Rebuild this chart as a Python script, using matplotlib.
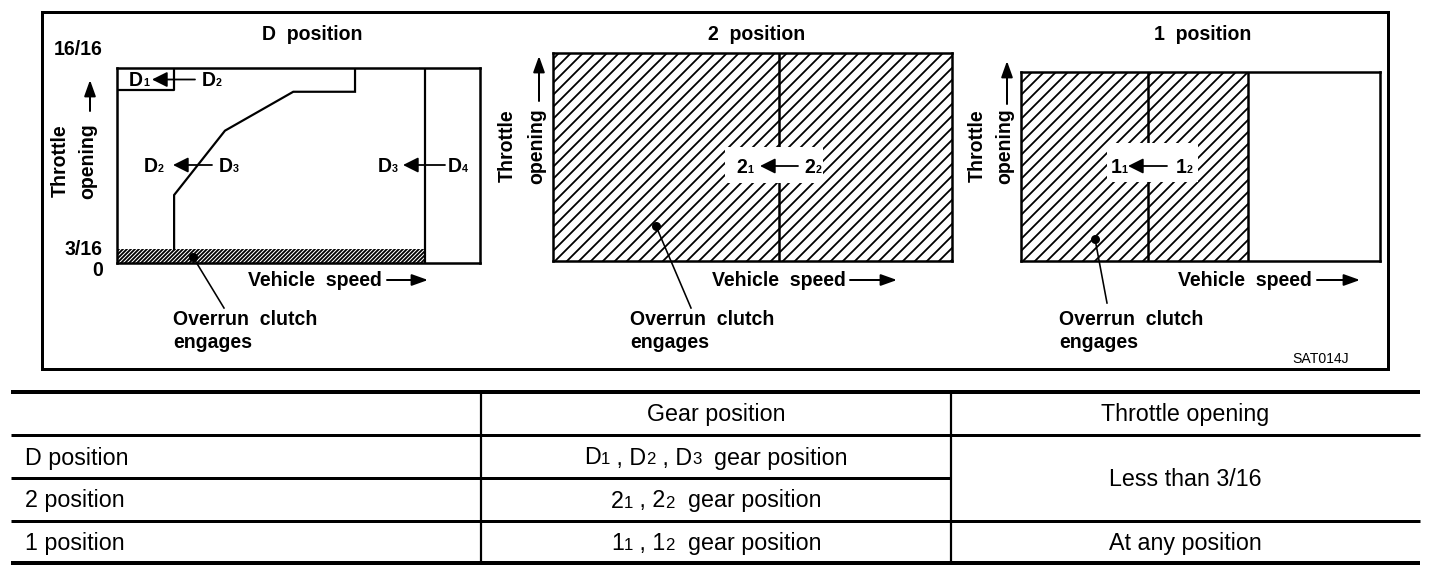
import matplotlib
matplotlib.use("Agg")
import matplotlib.pyplot as plt
from matplotlib.patches import Rectangle

plt.rcParams['font.family'] = ['Liberation Sans', 'DejaVu Sans']
plt.rcParams['hatch.linewidth'] = 0.9

# ---------------- data (schematic %, speed on x, throttle on y) ----------------
panel_titles = ["D  position", "2  position", "1  position"]
throttle_ticks = ["16/16", "3/16", "0"]

# D position
d23_speed = [15.8, 15.8, 29.8, 48.6, 65.6, 65.6]
d23_throttle = [7.2, 34.9, 67.8, 87.7, 87.7, 100.0]
d12_speed = [0.0, 15.8, 15.8]
d12_throttle = [88.6, 88.6, 100.0]
d34_speed = 84.9
d_overrun_throttle = 7.2          # 3/16 throttle line
d_overrun_speed = d34_speed       # overrun band ends at D3<-D4 line

# 2 position
p2_shift_speed = 56.7
p2_overrun_speed = 100.0

# 1 position
p1_shift_speed = 35.5
p1_overrun_speed = 63.1

# shift labels: (gear, subscript) pairs, lower gear <- higher gear
shift_labels = [(("D", "1"), ("D", "2")),
                (("D", "2"), ("D", "3")),
                (("D", "3"), ("D", "4")),
                (("2", "1"), ("2", "2")),
                (("1", "1"), ("1", "2"))]

# table
table_header = ["", "Gear position", "Throttle opening"]
row_labels = ["D position", "2 position", "1 position"]
gear_sets = [[("D", "1"), ("D", "2"), ("D", "3")],
             [("2", "1"), ("2", "2")],
             [("1", "1"), ("1", "2")]]
gear_suffix = "  gear position"
throttle_conditions = ["Less than 3/16", "At any position"]

# ---------------- figure ----------------
DPI = 144
W, H = 1456, 580
fig = plt.figure(figsize=(W / DPI, H / DPI), dpi=DPI, facecolor='white')
renderer = fig.canvas.get_renderer()

BFS = 9.75   # bold diagram text (pt)
TFS = 11.6   # table text (pt)


def panel_ax(x0, y0, x1, y1):
    ax = fig.add_axes([x0 / W, 1 - y1 / H, (x1 - x0) / W, (y1 - y0) / H])
    ax.set_xlim(0, 100)
    ax.set_ylim(0, 100)
    ax.set_xticks([])
    ax.set_yticks([])
    for s in ax.spines.values():
        s.set_linewidth(1.25)
        s.set_zorder(5)
    return ax


# D panel
axD = panel_ax(116.7, 67.7, 480, 263.3)
axD.add_patch(Rectangle((0, 0), d_overrun_speed, d_overrun_throttle, facecolor='white',
                        edgecolor='black', lw=0, hatch='////////////'))
axD.plot(d23_speed, d23_throttle, color='black', lw=1.1, solid_joinstyle='miter')
axD.plot(d12_speed, d12_throttle, color='black', lw=1.1)
axD.plot([d34_speed, d34_speed], [0, 100], color='black', lw=1.1)

# 2 panel
ax2 = panel_ax(553.3, 52.7, 951.7, 260.7)
ax2.add_patch(Rectangle((0, 0), p2_overrun_speed, 100, facecolor='white',
                        edgecolor='black', lw=0, hatch='////'))
ax2.plot([p2_shift_speed, p2_shift_speed], [0, 100], color='black', lw=1.25)
ax2.add_patch(Rectangle((43.1, 37.4), 24.6, 17.3, facecolor='white', edgecolor='none', zorder=3))

# 1 panel
ax1 = panel_ax(1021, 72.3, 1380, 260.7)
ax1.add_patch(Rectangle((0, 0), p1_overrun_speed, 100, facecolor='white',
                        edgecolor='black', lw=0, hatch='////'))
ax1.plot([p1_shift_speed, p1_shift_speed], [0, 100], color='black', lw=1.25)
ax1.plot([p1_overrun_speed, p1_overrun_speed], [0, 100], color='black', lw=1.25)
ax1.add_patch(Rectangle((24.0, 41.8), 25.3, 20.7, facecolor='white', edgecolor='none', zorder=3))

# overlay in pixel coordinates (drawn last)
ov = fig.add_axes([0, 0, 1, 1])
ov.set_xlim(0, W)
ov.set_ylim(H, 0)
ov.axis('off')
ov.patch.set_alpha(0)


def rich(x, y, parts, ha='center'):
    """parts: list of (text, fontsize, weight) laid out on a common baseline."""
    objs, widths = [], []
    for s, fs, fw in parts:
        t = ov.text(0, y, s, fontsize=fs, fontweight=fw, va='baseline', ha='left', color='black')
        widths.append(t.get_window_extent(renderer).width)
        objs.append(t)
    total = sum(widths)
    cur = x - total / 2 if ha == 'center' else x
    for t, w in zip(objs, widths):
        t.set_x(cur)
        cur += w


# outer frame
ov.add_patch(Rectangle((41.5, 11.5), 1388 - 41.5, 368.5 - 11.5, fill=False, lw=1.5, edgecolor='black'))

bold = dict(fontsize=BFS, fontweight='bold', color='black')

# titles
for cx, t in zip([312, 757, 1203], panel_titles):
    ov.text(cx, 39.5, t, ha='center', va='baseline', **bold)

# D throttle ticks
for y, t in zip([55, 255, 276.5], throttle_ticks):
    ov.text(103, y, t, ha='right', va='baseline', **bold)

arrow_ax = dict(arrowstyle='-|>,head_length=0.42,head_width=0.15', mutation_scale=16,
                lw=1.0, color='black', shrinkA=0, shrinkB=0)
arrow_sh = dict(arrowstyle='-|>,head_length=0.4,head_width=0.2', mutation_scale=16,
                lw=0.9, color='black', shrinkA=0, shrinkB=0)

# Throttle opening labels (rotated) with up arrows
for xt, xo, yc, ya0, ya1 in [(60, 88, 161, 111, 80), (507, 537, 146, 101, 56), (977, 1005, 146, 104, 61)]:
    ov.text(xt, yc, 'Throttle', rotation=90, ha='center', va='center', **bold)
    ov.text(xo, yc, 'opening', rotation=90, ha='center', va='center', **bold)
    ov.annotate('', xy=(xo + 2, ya1), xytext=(xo + 2, ya0), arrowprops=arrow_ax)

# Vehicle speed labels with right arrows
for xl, xa0, xa1 in [(248, 387, 428), (712, 850, 897), (1178, 1317, 1360)]:
    ov.text(xl, 286.5, 'Vehicle  speed', ha='left', va='baseline', **bold)
    ov.annotate('', xy=(xa1, 280), xytext=(xa0, 280), arrowprops=arrow_ax)

# Overrun clutch engages + leaders
for xl, (dx, dy), (ex, ey) in [(173, (193, 257), (224, 308)),
                               (630, (656, 226), (691, 308)),
                               (1059, (1095, 239), (1107, 303))]:
    ov.text(xl, 325, 'Overrun  clutch', ha='left', va='baseline', **bold)
    ov.text(xl, 348, 'engages', ha='left', va='baseline', **bold)
    ov.plot([dx, ex], [dy, ey], color='black', lw=0.8)
    ov.plot([dx], [dy], 'o', color='black', ms=3.5)

# shift labels: (left label cx, arrow tip, arrow tail, right label cx, y center)
shift_pos = [(139, 152, 195, 212, 79.5),
             (154, 173, 212, 229, 165),
             (388, 403, 445, 458, 165),
             (745, 760, 798, 813, 166),
             (1119, 1128, 1167, 1184, 166)]
SUB = BFS * 0.55
for ((lg, ls), (rg, rs)), (lx, tip, tail, rx, y) in zip(shift_labels, shift_pos):
    rich(lx, y + 7, [(lg, BFS, 'bold'), (ls, SUB, 'bold')])
    rich(rx, y + 7, [(rg, BFS, 'bold'), (rs, SUB, 'bold')])
    ov.annotate('', xy=(tip, y), xytext=(tail, y), arrowprops=arrow_sh)

ov.text(1321, 363, 'SAT014J', ha='center', va='baseline', fontsize=7, color='black')

# ---------------- table ----------------
tx0, tx1 = 11, 1420
col_x = [481, 951]
row_y = [392, 435, 478, 521, 563]
ov.plot([tx0, tx1], [row_y[0]] * 2, color='black', lw=2.0, solid_capstyle='butt')
ov.plot([tx0, tx1], [row_y[1]] * 2, color='black', lw=1.5, solid_capstyle='butt')
ov.plot([tx0, col_x[1]], [row_y[2]] * 2, color='black', lw=1.5, solid_capstyle='butt')
ov.plot([tx0, tx1], [row_y[3]] * 2, color='black', lw=1.5, solid_capstyle='butt')
ov.plot([tx0, tx1], [row_y[4]] * 2, color='black', lw=2.0, solid_capstyle='butt')
for cx in col_x:
    ov.plot([cx, cx], [row_y[0], row_y[4]], color='black', lw=1.1)

col_centers = [(tx0 + col_x[0]) / 2, (col_x[0] + col_x[1]) / 2, (col_x[1] + tx1) / 2]
rc = [(row_y[i] + row_y[i + 1]) / 2 for i in range(4)]
off = 8.0
TSUB = TFS * 0.72
for cx, t in zip(col_centers, table_header):
    if t:
        ov.text(cx, rc[0] + off, t, ha='center', va='baseline', fontsize=TFS)
for i, (lab, gs) in enumerate(zip(row_labels, gear_sets)):
    ov.text(25, rc[i + 1] + off, lab, ha='left', va='baseline', fontsize=TFS)
    parts = []
    for k, (g, s) in enumerate(gs):
        parts.append(((' , ' if k else '') + g, TFS, 'normal'))
        parts.append((s, TSUB, 'normal'))
    parts.append((gear_suffix, TFS, 'normal'))
    rich(col_centers[1], rc[i + 1] + off, parts)
ov.text(col_centers[2], row_y[2] + off, throttle_conditions[0], ha='center', va='baseline', fontsize=TFS)
ov.text(col_centers[2], rc[3] + off, throttle_conditions[1], ha='center', va='baseline', fontsize=TFS)

fig.savefig('out.png', dpi=DPI, facecolor='white')
